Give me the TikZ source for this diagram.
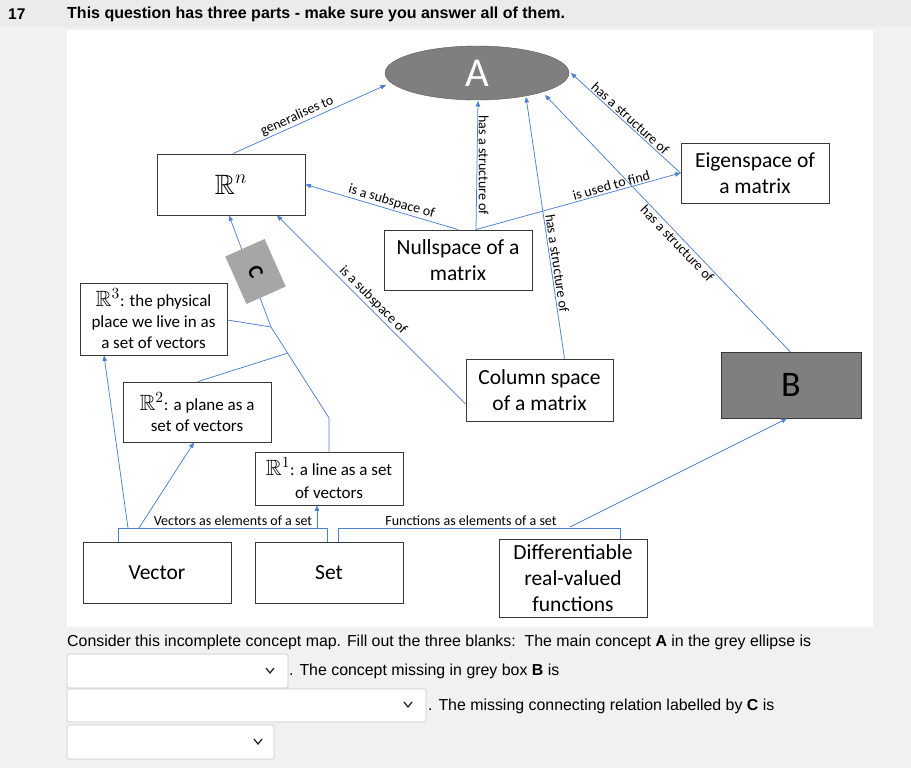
\RequirePackage{fix-cm}
\documentclass[tikz,border=0pt]{standalone}
\usepackage{amssymb}
\usepackage{graphicx}
\usepackage{fontspec}
\setmainfont{Carlito}
\newfontfamily\webfont{Liberation Sans}
\usetikzlibrary{arrows.meta,shapes.geometric}
\definecolor{linkblue}{RGB}{78,128,208}
\definecolor{pagegrey}{RGB}{241,241,241}
\definecolor{conceptgrey}{RGB}{127,127,127}
\definecolor{tabgrey}{RGB}{166,166,166}
\newcommand{\realspace}[1]{\scalebox{1.3}{$\mathbb{R}^{#1}$}}
\begin{document}
\begin{tikzpicture}[x=1pt,y=-1pt,
  concept/.style={draw=black!78,fill=white,line width=0.9pt,minimum width=148pt,minimum height=60pt,
    align=center,inner sep=2pt,font=\fontsize{21.5}{26}\selectfont},
  smalltext/.style={font=\fontsize{17}{21}\selectfont},
  link/.style={draw=linkblue,line width=0.75pt},
  tip/.style={-{Triangle[width=4.5pt,length=5.5pt]}},
  pit/.style={{Triangle[width=4.5pt,length=5.5pt]}-},
  rel/.style={font=\fontsize{14}{15}\selectfont,inner sep=1.5pt},
  pick/.style={draw=black!22,fill=white,rounded corners=2pt,line width=0.6pt},
  webtext/.style={anchor=west,inner sep=0,font=\webfont\fontsize{15.9}{18}\selectfont},
  chevron/.style={line width=1.3pt,draw=black!85}]
\fill[pagegrey] (0,0) rectangle (911,768);
\fill[black!8] (0,0) rectangle (911,27);
\fill[white] (67,30) rectangle (873,627);
\path[use as bounding box] (0,0) rectangle (911,768);
\node[anchor=west,inner sep=0,font=\webfont\bfseries\fontsize{15.5}{17}\selectfont] (qnum) at (8,14) {17};
\node[anchor=west,inner sep=0,font=\webfont\bfseries\fontsize{16}{18}\selectfont] (qhead) at (67,14)
  {This question has three parts - make sure you answer all of them.};
\node[ellipse,draw=black!65,fill=conceptgrey,minimum width=184pt,minimum height=54pt,inner sep=0,
  text=white,font=\fontsize{41}{41}\selectfont] (main) at (477,73) {A};
\node[concept,minimum height=61pt] (rn) at (231,184.5) {\realspace{n}};
\node[concept] (eigen) at (755,173) {Eigenspace of\\a matrix};
\node[concept] (null) at (458,260) {Nullspace of a\\matrix};
\node[concept,smalltext,minimum width=147pt,minimum height=72pt] (rthree) at (153.5,319)
  {\realspace{3}: the physical\\place we live in as\\a set of vectors};
\node[concept,minimum width=147pt,minimum height=62pt] (col) at (539.5,390) {Column space\\of a matrix};
\node[concept,fill=conceptgrey,minimum width=140pt,minimum height=66pt,font=\fontsize{36}{36}\selectfont] (missing) at (791,385) {B};
\node[concept,smalltext] (rtwo) at (197,412) {\realspace{2}: a plane as a\\set of vectors};
\node[concept,minimum height=53pt,font=\fontsize{17}{23}\selectfont] (rone) at (329,478.5) {\realspace{1}: a line as a set\\of vectors};
\node[concept,minimum height=61pt] (vector) at (157,572.5) {Vector};
\node[concept,minimum height=61pt] (set) at (329,572.5) {Set};
\node[concept,minimum height=78pt] (diff) at (573,578) {Differentiable\\real-valued\\functions};
\coordinate (jone) at (271,327);
\coordinate (jtwo) at (288,353);
\coordinate (jthree) at (329,418);
\coordinate (vleft) at (118,528);
\coordinate (vright) at (327,528);
\coordinate (fleft) at (338,528);
\coordinate (fright) at (620,528);
\draw[link,tip] (rn.north) ++(2,0) -- (386,85) node[rel,sloped,above,pos=0.44] {generalises to};
\draw[link,tip] (null.north) -- (rn.east) node[rel,sloped,above,pos=0.45] {is a subspace of};
\draw[link,tip] ([xshift=18pt]null.north) -- (478,101) node[rel,rotate=-90,anchor=south,pos=0.5] {has a structure of};
\draw[link,tip] ([xshift=18pt]null.north) -- (eigen.west) node[rel,sloped,above,pos=0.67] {is used to find};
\draw[link,pit] (526,97) -- ([xshift=25pt]col.north) node[rel,sloped,above,pos=0.64] {has a structure of};
\draw[link,pit] (545,95) -- ([xshift=-1pt]missing.north) node[rel,sloped,below,pos=0.56] {has a structure of};
\draw[link,pit] (571,73) -- (eigen.west) node[rel,sloped,above,pos=0.5] {has a structure of};
\draw[link,pit] ([xshift=46pt]rn.south) -- ([yshift=-14pt]col.west) node[rel,sloped,above,pos=0.48] {is a subspace of};
\draw[link] (rthree.east) ++(0,1) -- (jone);
\draw[link] (rtwo.north) ++(1,0) -- (jtwo);
\draw[link,tip] (rone.north) -- (jthree) -- (jone) -- ([xshift=-2pt]rn.south);
\node[fill=tabgrey,rotate=-66,minimum width=52pt,minimum height=43pt,inner sep=0,
  font=\bfseries\fontsize{21}{21}\selectfont] (relc) at (255.5,271.5) {C};
\draw[link] ([xshift=-39pt]vector.north) -- (vleft) -- (vright) -- ([xshift=-2pt]set.north);
\node[rel,anchor=south,inner sep=1pt] (vlabel) at (233,527) {Vectors as elements of a set};
\draw[link,tip] (128,528) -- ([xshift=-49.5pt]rthree.south);
\draw[link,tip] (139,528) -- ([xshift=-3pt]rtwo.south);
\draw[link,tip] (317,528) -- ([xshift=-12pt]rone.south);
\draw[link] ([xshift=9pt]set.north) -- (fleft) -- (fright) -- ([xshift=47pt]diff.north);
\node[rel,anchor=south,inner sep=1pt] (flabel) at (471,527) {Functions as elements of a set};
\draw[link,tip] (570,527) -- ([xshift=-4pt]missing.south);
\node[webtext] (prompt) at (67,642)
  {Consider this incomplete concept map. Fill out the three blanks:\ \ The main concept \textbf{A} in the grey ellipse is};
\draw[pick] (67,654) rectangle (288,688);
\draw[chevron] (266,668) -- (270,673) -- (274,668);
\node[webtext] (promptb) at (289,671) {. The concept missing in grey box \textbf{B} is};
\draw[pick] (67,689) rectangle (426,722);
\draw[chevron] (404,702) -- (408,707) -- (412,702);
\node[webtext] (promptc) at (428,706) {. The missing connecting relation labelled by \textbf{C} is};
\draw[pick] (67,725) rectangle (274,759);
\draw[chevron] (254,739) -- (258,744) -- (262,739);
\end{tikzpicture}
\end{document}
